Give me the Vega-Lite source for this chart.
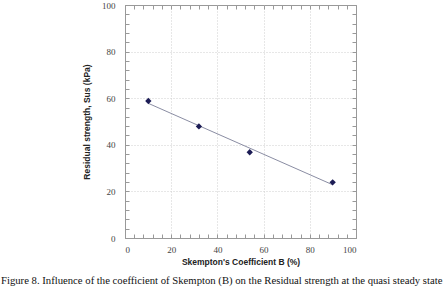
{
  "$schema": "https://vega.github.io/schema/vega-lite/v6.json",
  "autosize": "none",
  "width": 231,
  "height": 233,
  "padding": {"left": 125, "top": 5, "right": 90, "bottom": 55},
  "background": "white",
  "data": {"values": [
    {"B": 10.1, "Sus": 58.8},
    {"B": 32.0, "Sus": 47.9},
    {"B": 54.0, "Sus": 36.8},
    {"B": 89.9, "Sus": 23.9}
  ]},
  "title": {
    "text": "Figure 8. Influence of the coefficient of Skempton (B) on the Residual strength at the quasi steady state",
    "orient": "bottom",
    "anchor": "start",
    "frame": "group",
    "dx": -124,
    "offset": 10,
    "font": "Liberation Serif",
    "fontSize": 10.7,
    "fontWeight": "normal",
    "color": "#111"
  },
  "layer": [
    {
      "transform": [{"regression": "Sus", "on": "B"}],
      "mark": {"type": "line", "color": "#8a8da3", "strokeWidth": 1},
      "encoding": {
        "x": {"field": "B", "type": "quantitative", "scale": {"domain": [0, 100], "nice": false},
          "axis": {"orient": "bottom", "title": "Skempton's Coefficient B (%)", "labelPadding": 11, "titlePadding": 3, "values": [0,4,8,12,16,20,24,28,32,36,40,44,48,52,56,60,64,68,72,76,80,84,88,92,96,100],
            "labelExpr": "datum.value % 20 === 0 ? datum.label : ''",
            "gridOpacity": {"condition": {"test": "datum.value % 20 === 0 && datum.value > 0 && datum.value < 100", "value": 1}, "value": 0}}},
        "y": {"field": "Sus", "type": "quantitative", "scale": {"domain": [0, 100], "nice": false},
          "axis": {"orient": "left", "title": "Residual strength, Sus (kPa)", "labelPadding": 14, "titlePadding": 10, "values": [0,4,8,12,16,20,24,28,32,36,40,44,48,52,56,60,64,68,72,76,80,84,88,92,96,100],
            "labelExpr": "datum.value % 20 === 0 ? datum.label : ''",
            "gridOpacity": {"condition": {"test": "datum.value % 20 === 0 && datum.value > 0 && datum.value < 100", "value": 1}, "value": 0}}}
      }
    },
    {
      "mark": {"type": "point", "shape": "diamond", "filled": true, "color": "#1c1c55", "size": 40, "opacity": 1},
      "encoding": {
        "x": {"field": "B", "type": "quantitative",
          "axis": {"orient": "top", "title": null, "labels": false, "grid": false, "domain": false, "values": [0,4,8,12,16,20,24,28,32,36,40,44,48,52,56,60,64,68,72,76,80,84,88,92,96,100]}},
        "y": {"field": "Sus", "type": "quantitative",
          "axis": {"orient": "right", "title": null, "labels": false, "grid": false, "domain": false, "values": [0,4,8,12,16,20,24,28,32,36,40,44,48,52,56,60,64,68,72,76,80,84,88,92,96,100]}}
      }
    }
  ],
  "resolve": {"axis": {"x": "independent", "y": "independent"}},
  "config": {
    "view": {"stroke": "#999", "strokeWidth": 1},
    "axis": {
      "domainColor": "#999",
      "tickColor": "#999",
      "tickSize": -4,
      "labelFont": "Liberation Sans Narrow",
      "labelFontSize": 9,
      "labelColor": "#444",
      "gridColor": "#cfcfcf",
      "gridDash": [1, 2],
      "titleFont": "Liberation Sans",
      "titleFontSize": 8.5,
      "titleFontWeight": "bold",
      "titleColor": "#222"
    }
  }
}
